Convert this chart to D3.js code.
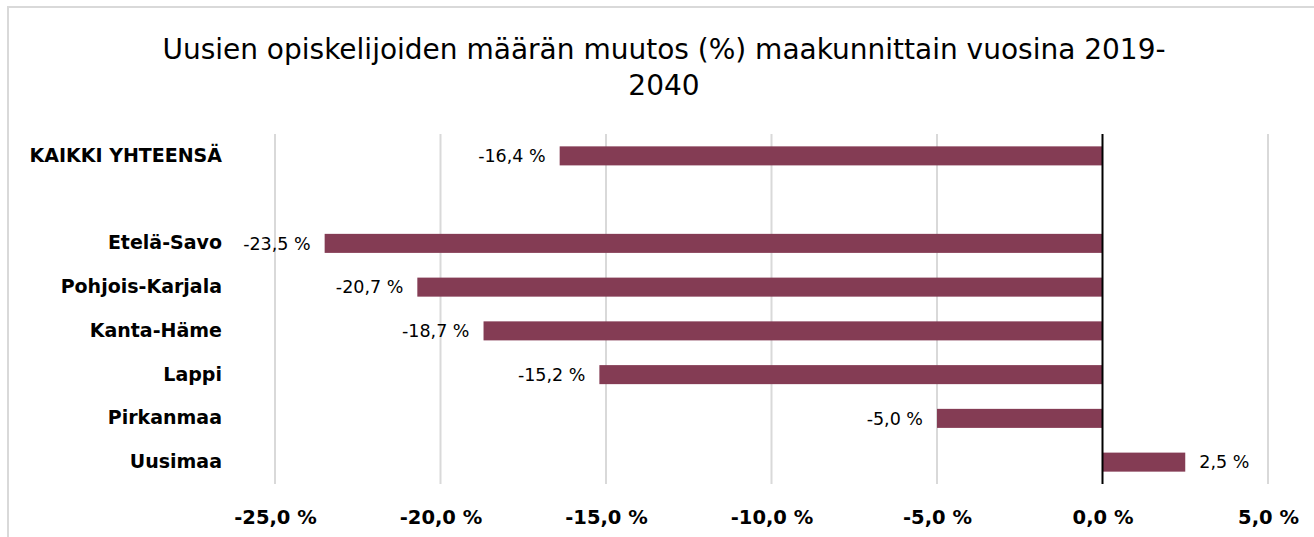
<!DOCTYPE html>
<html>
<head>
<meta charset="utf-8">
<script src="https://cdn.jsdelivr.net/npm/d3@7"></script>
<style>
  html, body { margin: 0; padding: 0; background: #fff; }
  svg { display: block; }
  text { font-family: "DejaVu Sans", sans-serif; fill: #000; }
</style>
</head>
<body>
<svg id="chart" width="1314" height="537"></svg>
<script>
const titleLines = ["Uusien opiskelijoiden määrän muutos (%) maakunnittain vuosina 2019-", "2040"];
const categories = ["KAIKKI YHTEENSÄ", "", "Etelä-Savo", "Pohjois-Karjala", "Kanta-Häme", "Lappi", "Pirkanmaa", "Uusimaa"];
const values = [-16.4, null, -23.5, -20.7, -18.7, -15.2, -5.0, 2.5];
const tickValues = [-25, -20, -15, -10, -5, 0, 5];
const tickLabels = ["-25,0 %", "-20,0 %", "-15,0 %", "-10,0 %", "-5,0 %", "0,0 %", "5,0 %"];

const svg = d3.select("#chart");
const W = 1314, H = 537;
const plot = { left: 275, right: 1268, top: 134, bottom: 484 };
const barColor = "#843c54";

// outer border
svg.append("rect").attr("x", 8).attr("y", 7).attr("width", W).attr("height", H)
  .attr("fill", "none").attr("stroke", "#d9d9d9").attr("stroke-width", 2);

// title
const title = svg.append("text").attr("text-anchor", "middle")
  .style("font-size", "28px");
titleLines.forEach((t, i) => {
  title.append("tspan").attr("x", 664).attr("y", 59 + i * 36).text(t);
});

const x = d3.scaleLinear().domain([-25, 5]).range([plot.left, plot.right]);
const y = d3.scaleBand().domain(d3.range(categories.length)).range([plot.top, plot.bottom]).paddingInner(0.565).paddingOuter(0.565 / 2);

// gridlines
svg.append("g").selectAll("line").data(tickValues.filter(v => v !== 0)).join("line")
  .attr("x1", d => x(d)).attr("x2", d => x(d))
  .attr("y1", plot.top).attr("y2", plot.bottom)
  .attr("stroke", "#d9d9d9").attr("stroke-width", 2);

// x-axis labels
const xAxis = d3.axisBottom(x).tickValues(tickValues).tickFormat((d, i) => tickLabels[i]).tickSize(0).tickPadding(0);
const gx = svg.append("g").attr("transform", `translate(0,${plot.bottom + 26})`).call(xAxis);
gx.select(".domain").remove();
gx.selectAll("text").style("font-family", "DejaVu Sans, sans-serif").style("font-size", "19.5px").style("font-weight", "bold").attr("fill", "#000");

// bars
const data = categories.map((c, i) => ({ c, v: values[i], i })).filter(d => d.v !== null);
svg.append("g").selectAll("rect").data(data).join("rect")
  .attr("x", d => Math.min(x(0), x(d.v)))
  .attr("width", d => Math.abs(x(d.v) - x(0)))
  .attr("y", d => y(d.i))
  .attr("height", y.bandwidth())
  .attr("fill", barColor);

// zero line
svg.append("line").attr("x1", x(0)).attr("x2", x(0)).attr("y1", plot.top).attr("y2", plot.bottom)
  .attr("stroke", "#000").attr("stroke-width", 2);

// value labels
const fmt = v => v.toFixed(1).replace(".", ",") + " %";
svg.append("g").selectAll("text").data(data).join("text")
  .attr("x", d => d.v < 0 ? x(d.v) - 14 : x(d.v) + 14)
  .attr("y", d => y(d.i) + y.bandwidth() / 2)
  .attr("dy", "0.35em")
  .attr("text-anchor", d => d.v < 0 ? "end" : "start")
  .style("font-size", "17.5px")
  .text(d => fmt(d.v));

// category labels
const yAxis = d3.axisLeft(y).tickFormat(i => categories[i]).tickSize(0).tickPadding(0);
const gy = svg.append("g").attr("transform", `translate(222,0)`).call(yAxis);
gy.select(".domain").remove();
gy.selectAll("text").style("font-family", "DejaVu Sans, sans-serif").style("font-size", "19px").style("font-weight", "bold").attr("fill", "#000");
</script>
</body>
</html>
